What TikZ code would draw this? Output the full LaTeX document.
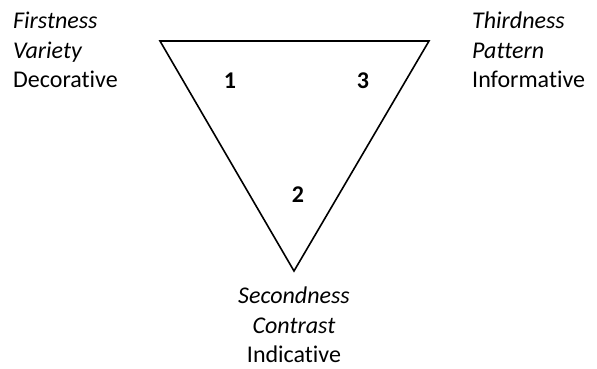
\documentclass[tikz,border=0pt]{standalone}
\usepackage{fontspec}
\setmainfont{Carlito}[Ligatures=NoCommon]
\tikzset{
  edge/.style={line width=1.6pt},
  lbl/.style={inner sep=0pt, font=\fontsize{24}{29.5}\selectfont},
  num/.style={inner sep=0pt, font=\fontsize{24}{29.5}\selectfont\bfseries}
}
\begin{document}
\begin{tikzpicture}[x=1pt, y=-1pt]
  \useasboundingbox (0,0) rectangle (597,368);
  % triangle corners
  \coordinate (tl) at (160,41);
  \coordinate (tr) at (429,41);
  \coordinate (bt) at (294,271);
  \draw[edge] (tl) -- (tr) -- (bt) -- cycle;

  \node[num] (one) at (230,81) {1};
  \node[num] (three) at (363,81) {3};
  \node[num] (two) at (298,195) {2};

  \node[lbl, align=left, anchor=west] (first) at (13,50) {\textit{Firstness}\\\textit{Variety}\\Decorative};
  \node[lbl, align=left, anchor=west] (third) at (472,50) {\textit{Thirdness}\\\textit{Pattern}\\Informative};
  \node[lbl, align=center] (second) at (294,325) {\textit{Secondness}\\\textit{Contrast}\\Indicative};
\end{tikzpicture}
\end{document}
